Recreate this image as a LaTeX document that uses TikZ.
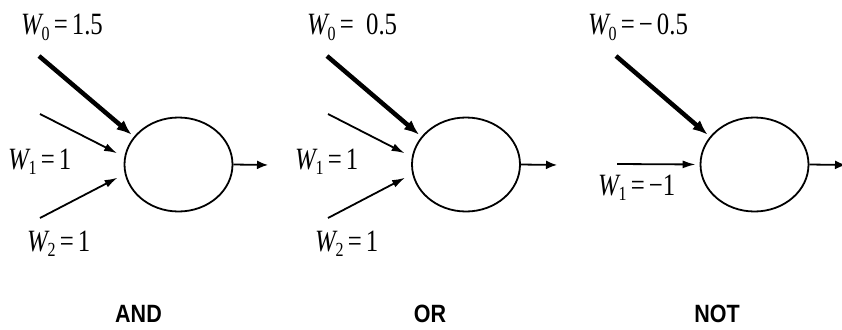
\documentclass[tikz,border=0pt]{standalone}
\usepackage{fontspec}
\setmainfont{Liberation Serif}
\newfontfamily\lsans{Liberation Sans}
\usetikzlibrary{arrows.meta,shapes.geometric}
\newcommand{\wlab}[2]{\scalebox{0.8}[1]{\fontsize{31}{31}\selectfont\itshape W\kern-0.3pt\raisebox{-0.4ex}{\fontsize{20}{20}\selectfont\upshape #1}\upshape #2}}
\newcommand{\gtxt}[1]{\scalebox{0.86}[1]{\lsans\bfseries\fontsize{25}{25}\selectfont #1}}
\tikzset{
  neuron/.style={draw, line width=1.8pt, ellipse, minimum width=108pt, minimum height=94pt, inner sep=0pt},
  thickin/.style={line width=4.5pt, -{Latex[length=15pt,width=12pt]}},
  thinin/.style={line width=1.8pt, -{Latex[length=13pt,width=8pt]}},
  outarr/.style={line width=1.8pt, -{Latex[length=11pt,width=9pt]}},
  wlabel/.style={anchor=base west, inner sep=0pt},
  gate/.style={inner sep=0pt}
}
\begin{document}
\begin{tikzpicture}[x=1pt,y=-1pt]
\useasboundingbox (0,0) rectangle (842,329);
% AND
\node[neuron] (a) at (178.5,164.5) {};
\coordinate (a0) at (39,56);
\coordinate (a1) at (40,114);
\coordinate (a2) at (40,218);
\coordinate (ao) at (268,165);
\draw[thickin, shorten >=3pt] (a0) -- (a.148);
\draw[thinin, shorten >=8pt] (a1) -- (a.172);
\draw[thinin, shorten >=8pt] (a2) -- (a.190);
\draw[outarr] (a.east) -- (ao);
\node[wlabel] (la0) at (21,35) {\wlab{0}{\,=\,1.5}};
\node[wlabel] (la1) at (8,169) {\wlab{1}{\,=\,1}};
\node[wlabel] (la2) at (27,251) {\wlab{2}{\,=\,1}};
\node[gate] (ga) at (138.5,314) {\gtxt{AND}};
% OR
\node[neuron] (o) at (466,164.5) {};
\coordinate (o0) at (327,56);
\coordinate (o1) at (328,114);
\coordinate (o2) at (328,218);
\coordinate (oo) at (557,165);
\draw[thickin, shorten >=3pt] (o0) -- (o.148);
\draw[thinin, shorten >=8pt] (o1) -- (o.172);
\draw[thinin, shorten >=8pt] (o2) -- (o.190);
\draw[outarr] (o.east) -- (oo);
\node[wlabel] (lo0) at (307,35) {\wlab{0}{\,=\ \ 0.5}};
\node[wlabel] (lo1) at (295,169) {\wlab{1}{\,=\,1}};
\node[wlabel] (lo2) at (315,251) {\wlab{2}{\,=\,1}};
\node[gate] (go) at (430,314) {\gtxt{OR}};
% NOT
\node[neuron] (n) at (754.5,164.5) {};
\coordinate (n0) at (616,56);
\coordinate (n1) at (617,164);
\coordinate (no) at (846,165);
\draw[thickin, shorten >=3pt] (n0) -- (n.148);
\draw[thinin, shorten >=4pt] (n1) -- (n.west);
\draw[outarr] (n.east) -- (no);
\node[wlabel] (ln0) at (588,35) {\wlab{0}{\,=\,−\,0.5}};
\node[wlabel] (ln1) at (598,195) {\wlab{1}{\,=\,−1}};
\node[gate] (gn) at (717,314) {\gtxt{NOT}};
\end{tikzpicture}
\end{document}
